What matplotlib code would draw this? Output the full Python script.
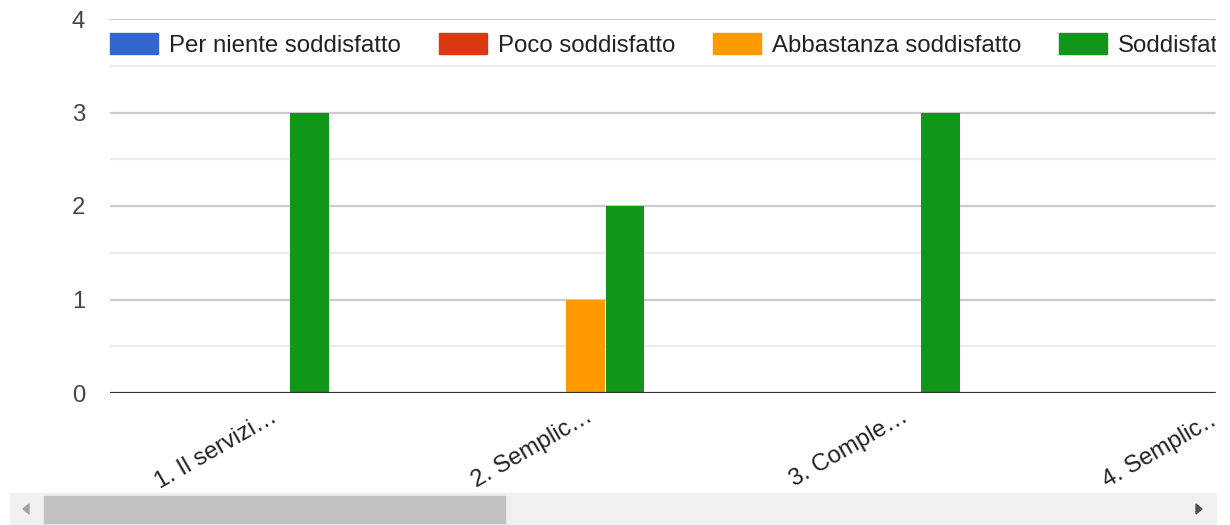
import numpy as np
import matplotlib.pyplot as plt
from matplotlib.patches import Rectangle, Polygon

plt.rcParams['font.family'] = ['Liberation Sans', 'DejaVu Sans']

# dati
categorie = ["1. Il servizi…", "2. Semplic…", "3. Comple…", "4. Semplic…"]
serie = ["Per niente soddisfatto", "Poco soddisfatto", "Abbastanza soddisfatto",
         "Soddisfatto", "Molto soddisfatto"]
colori = ["#3366cc", "#dc3912", "#ff9900", "#109618", "#990099"]
per_niente = [0, 0, 0, 0]
poco = [0, 0, 0, 0]
abbastanza = [0, 1, 0, 0]
soddisfatto = [3, 2, 3, 0]
molto = [0, 0, 0, 0]
valori = [per_niente, poco, abbastanza, soddisfatto, molto]

W, H = 1230, 525
fig = plt.figure(figsize=(W / 100, H / 100), dpi=100)
# area del grafico in pixel (sinistra, basso, larghezza, altezza)
ax = fig.add_axes([110 / W, 132 / H, (1216 - 110) / W, 374 / H])

passo = 318.5  # pixel per categoria
x = np.arange(len(categorie)) + 0.5
larg = 39 / passo
for k in range(len(serie)):
    ax.bar(x + (k - 2) * 40 / passo, valori[k], width=larg, color=colori[k],
           linewidth=0, zorder=3)

sx = -2.25 / passo
ax.set_xlim(sx, sx + (1216 - 110) / passo)
ax.set_ylim(0, 4)

for y in np.arange(0.5, 4, 1):
    ax.axhline(y, color="#ebebeb", lw=1.6, zorder=1)
for y in range(1, 5):
    ax.axhline(y, color="#cccccc", lw=1.6, zorder=1)
ax.axhline(0, color="#333333", lw=2.3, zorder=4)

for s in ax.spines.values():
    s.set_visible(False)
ax.set_yticks(range(5))
ax.tick_params(axis="y", length=0, pad=18, labelsize=17.2, labelcolor="#444444")
ax.set_xticks(x)
ax.set_xticklabels(categorie, rotation=30, ha="right", rotation_mode="anchor",
                   fontsize=17.2, color="#222222")
ax.tick_params(axis="x", length=0, pad=9)

handles = [Rectangle((0, 0), 1, 1, color=c) for c in colori]
ax.legend(handles, serie, ncol=5, loc="center left", bbox_to_anchor=(0, 0.93),
          frameon=False, fontsize=17.3, handlelength=2.0, handleheight=0.92,
          handletextpad=0.46, columnspacing=1.57, borderaxespad=0, borderpad=0,
          labelcolor="#222222")

# taglio a destra
fig.add_artist(Rectangle((1216 / W, 0), 1, 1, transform=fig.transFigure,
                         color="white", zorder=10))

# barra di scorrimento
def px(x0, y0):
    return (x0 / W, 1 - y0 / H)

fig.add_artist(Rectangle(px(10, 525), 1206 / W, 32 / H, transform=fig.transFigure,
                         color="#f0f0f0", zorder=11))
fig.add_artist(Rectangle(px(44, 523), 461 / W, 27 / H, transform=fig.transFigure,
                         color="#c1c1c1", zorder=12))
fig.add_artist(Polygon([px(23, 509), px(29, 504), px(29, 514)], closed=True,
                       transform=fig.transFigure, color="#a3a3a3", zorder=12))
fig.add_artist(Polygon([px(1202, 509), px(1196, 504), px(1196, 514)], closed=True,
                       transform=fig.transFigure, color="#505050", zorder=12))

fig.savefig("out.png", dpi=100)
